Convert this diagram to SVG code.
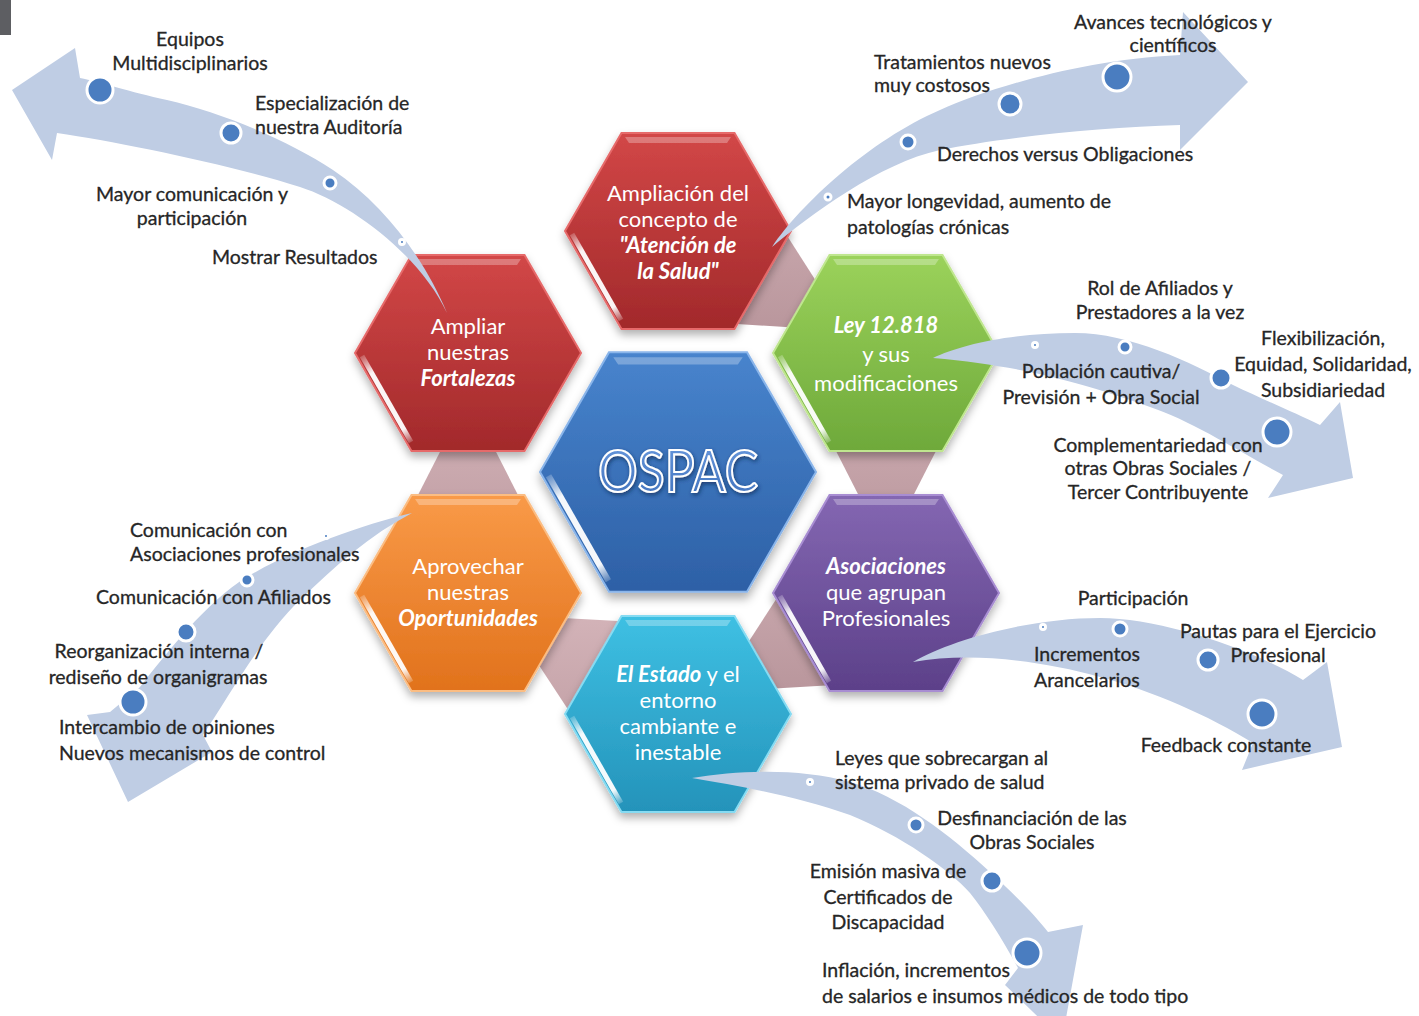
<svg xmlns="http://www.w3.org/2000/svg" xmlns:xlink="http://www.w3.org/1999/xlink" width="1419" height="1016" viewBox="0 0 1419 1016">
<style>
.ht{font-family:Lato,"Liberation Sans",sans-serif;font-size:22px;fill:#ffffff;text-anchor:middle}
.bi{font-weight:bold;font-style:italic}
.lb{font-family:Lato,"Liberation Sans",sans-serif;font-size:19.5px;fill:#262626;stroke:#262626;stroke-width:0.3}
.m{text-anchor:middle}
.arr{fill:#bfcde4}
.dot{fill:#4a7dc0;stroke:#ffffff;stroke-width:3}
.cn{fill:url(#gC)}
</style>
<defs>
<filter id="sh" x="-20%" y="-20%" width="140%" height="150%"><feDropShadow dx="0" dy="5" stdDeviation="4" flood-color="#000" flood-opacity="0.3"/></filter>
<filter id="ts" x="-10%" y="-30%" width="120%" height="160%"><feDropShadow dx="1" dy="2" stdDeviation="2" flood-color="#0a2a55" flood-opacity="0.7"/></filter>
<linearGradient id="gR" x1="0" y1="0" x2="0" y2="1"><stop offset="0" stop-color="#d24747"/><stop offset="1" stop-color="#a2292b"/></linearGradient>
<linearGradient id="gB" x1="0" y1="0" x2="0" y2="1"><stop offset="0" stop-color="#4884cd"/><stop offset="1" stop-color="#2d60a6"/></linearGradient>
<linearGradient id="gG" x1="0" y1="0" x2="0" y2="1"><stop offset="0" stop-color="#9bd25b"/><stop offset="1" stop-color="#6ea93a"/></linearGradient>
<linearGradient id="gO" x1="0" y1="0" x2="0" y2="1"><stop offset="0" stop-color="#f99a48"/><stop offset="1" stop-color="#e1721c"/></linearGradient>
<linearGradient id="gP" x1="0" y1="0" x2="0" y2="1"><stop offset="0" stop-color="#8467b2"/><stop offset="1" stop-color="#5c4089"/></linearGradient>
<linearGradient id="gY" x1="0" y1="0" x2="0" y2="1"><stop offset="0" stop-color="#3ec0e3"/><stop offset="1" stop-color="#2493ba"/></linearGradient>
<linearGradient id="gT" x1="0" y1="0" x2="0" y2="1"><stop offset="0" stop-color="#6b9be0"/><stop offset="1" stop-color="#3e70bb"/></linearGradient>
<linearGradient id="gC" x1="0" y1="0" x2="0" y2="1"><stop offset="0" stop-color="#d3b3b8"/><stop offset="1" stop-color="#b9969c"/></linearGradient>
<linearGradient id="gw" gradientUnits="userSpaceOnUse" x1="-106" y1="3" x2="-57" y2="89"><stop offset="0" stop-color="#fff" stop-opacity="0.2"/><stop offset="0.2" stop-color="#fff" stop-opacity="0.95"/><stop offset="0.85" stop-color="#fff" stop-opacity="0.95"/><stop offset="1" stop-color="#fff" stop-opacity="0.2"/></linearGradient>
<path id="hx" d="M-113,0 L-56.5,-98 L56.5,-98 L113,0 L56.5,98 L-56.5,98 Z"/>
<g id="bv">
<path d="M-53,-94 L53,-94 L49,-88 L-49,-88 Z" fill="#ffffff" opacity="0.28"/>
<path d="M-106,3 L-57,89" stroke="url(#gw)" stroke-width="5" fill="none"/>
</g>
</defs>
<rect x="0" y="0" width="11" height="35" fill="#5d5e62"/>
<g id="connectors">
<polygon class="cn" points="468,397 568,593 368,593"/>
<polygon class="cn" points="506,615 728,627 628,801"/>
<polygon class="cn" points="716,692 936,679 836,507"/>
<polygon class="cn" points="886,549 986,353 786,353"/>
<polygon class="cn" points="848,331 729,145 627,317"/>
</g>
<g id="node-fortalezas" transform="translate(468,353)">
<use xlink:href="#hx" fill="url(#gR)" stroke="#e66a6a" stroke-width="2" filter="url(#sh)"/>
<use xlink:href="#bv"/>
<text class="ht" x="0" y="-19">Ampliar</text>
<text class="ht" x="0" y="7">nuestras</text>
<text class="ht bi" x="0" y="33">Fortalezas</text>
</g>
<g id="node-atencion" transform="translate(678,231)">
<use xlink:href="#hx" fill="url(#gR)" stroke="#e66a6a" stroke-width="2" filter="url(#sh)"/>
<use xlink:href="#bv"/>
<text class="ht" x="0" y="-30">Ampliación del</text>
<text class="ht" x="0" y="-4">concepto de</text>
<text class="ht bi" x="0" y="22">"Atención de</text>
<text class="ht bi" x="0" y="48">la Salud"</text>
</g>
<g id="node-ley" transform="translate(886,353)">
<use xlink:href="#hx" fill="url(#gG)" stroke="#bfe68f" stroke-width="2" filter="url(#sh)"/>
<use xlink:href="#bv"/>
<text class="ht bi" x="0" y="-20">Ley 12.818</text>
<text class="ht" x="0" y="9">y sus</text>
<text class="ht" x="0" y="38">modificaciones</text>
</g>
<g id="node-oportunidades" transform="translate(468,593)">
<use xlink:href="#hx" fill="url(#gO)" stroke="#fbbd83" stroke-width="2" filter="url(#sh)"/>
<use xlink:href="#bv"/>
<text class="ht" x="0" y="-19">Aprovechar</text>
<text class="ht" x="0" y="7">nuestras</text>
<text class="ht bi" x="0" y="33">Oportunidades</text>
</g>
<g id="node-asociaciones" transform="translate(886,593)">
<use xlink:href="#hx" fill="url(#gP)" stroke="#a88dd2" stroke-width="2" filter="url(#sh)"/>
<use xlink:href="#bv"/>
<text class="ht bi" x="0" y="-19">Asociaciones</text>
<text class="ht" x="0" y="7">que agrupan</text>
<text class="ht" x="0" y="33">Profesionales</text>
</g>
<g id="node-estado" transform="translate(678,714)">
<use xlink:href="#hx" fill="url(#gY)" stroke="#86dbf2" stroke-width="2" filter="url(#sh)"/>
<use xlink:href="#bv"/>
<text class="ht" x="0" y="-32"><tspan class="bi">El Estado</tspan> y el</text>
<text class="ht" x="0" y="-6">entorno</text>
<text class="ht" x="0" y="20">cambiante e</text>
<text class="ht" x="0" y="46">inestable</text>
</g>
<g id="node-ospac">
<g transform="translate(678,472) scale(1.2212)">
<use xlink:href="#hx" fill="url(#gB)" stroke="#8ab5ea" stroke-width="1.7" filter="url(#sh)"/>
<use xlink:href="#bv"/>
</g>
<text x="678" y="492" text-anchor="middle" font-family="Lato,'Liberation Sans',sans-serif" font-size="58" fill="url(#gT)" stroke="#ffffff" stroke-width="2.2" textLength="160" lengthAdjust="spacingAndGlyphs" filter="url(#ts)">OSPAC</text>
</g>
<g id="arrows">
<path class="arr" d="M447,313 C425,260 385,205 333,170 C288,140 220,112 167,100 C130,92 100,82 80,78 L75,48 L12,90 L52,160 L57,133 C120,142 230,165 300,187 C350,203 420,255 447,313 Z"/>
<path class="arr" d="M772,247 C800,205 870,140 940,110 C990,88 1080,60 1180,55 L1183,12 L1248,82 L1180,150 L1180,125 C1100,127 1000,138 940,150 C880,163 810,215 772,247 Z"/>
<path class="arr" d="M933,358 C960,345 1010,333 1075,333 C1130,333 1190,362 1233,385 C1260,398 1295,413 1320,425 L1340,402 L1353,478 L1268,498 L1283,475 C1240,452 1190,420 1150,407 C1110,393 1040,367 933,358 Z"/>
<path class="arr" d="M913,662 C950,640 1030,618 1100,618 C1160,618 1250,648 1303,680 L1327,662 L1342,747 L1242,770 L1253,743 C1210,716 1150,690 1100,677 C1040,660 970,652 913,662 Z"/>
<path class="arr" d="M692,778 C740,770 800,768 850,782 C900,796 950,835 990,872 C1015,895 1035,915 1048,932 L1083,925 L1062,1040 L1005,985 L1018,968 C1000,935 985,912 970,893 C950,870 900,835 850,815 C800,797 740,786 692,778 Z"/>
<path class="arr" d="M412,513 C380,520 300,545 247,577 C207,601 165,655 140,687 L110,712 L87,715 L128,802 L212,752 L203,735 C230,695 262,636 300,600 C335,566 370,535 412,513 Z"/>
</g>
<g id="dots">
<circle class="dot" cx="100" cy="90" r="13"/><circle class="dot" cx="231" cy="133" r="10"/><circle class="dot" cx="330" cy="183" r="6"/><circle class="dot" cx="402" cy="242" r="2.5"/>
<circle class="dot" cx="828" cy="197" r="3"/><circle class="dot" cx="908" cy="142" r="7"/><circle class="dot" cx="1010" cy="104" r="11"/><circle class="dot" cx="1117" cy="77" r="14"/>
<circle class="dot" cx="1035" cy="345" r="2.5"/><circle class="dot" cx="1125" cy="347" r="6"/><circle class="dot" cx="1221" cy="378" r="10"/><circle class="dot" cx="1277" cy="432" r="14"/>
<circle class="dot" cx="1043" cy="627" r="2.5"/><circle class="dot" cx="1120" cy="629" r="7"/><circle class="dot" cx="1208" cy="660" r="10"/><circle class="dot" cx="1262" cy="714" r="14"/>
<circle class="dot" cx="810" cy="782" r="2.5"/><circle class="dot" cx="916" cy="825" r="7"/><circle class="dot" cx="992" cy="881" r="10"/><circle class="dot" cx="1027" cy="953" r="14"/>
<circle class="dot" cx="326" cy="536" r="2.5"/><circle class="dot" cx="247" cy="580" r="6"/><circle class="dot" cx="186" cy="632" r="9"/><circle class="dot" cx="133" cy="702" r="13"/>
</g>
<g id="labels-fortalezas">
<text class="lb m" x="190" y="46">Equipos</text>
<text class="lb m" x="190" y="70">Multidisciplinarios</text>
<text class="lb" x="255" y="110">Especialización de</text>
<text class="lb" x="255" y="134">nuestra Auditoría</text>
<text class="lb m" x="192" y="201">Mayor comunicación y</text>
<text class="lb m" x="192" y="225">participación</text>
<text class="lb" x="212" y="264">Mostrar Resultados</text>
</g>
<g id="labels-atencion">
<text class="lb m" x="1173" y="29">Avances tecnológicos y</text>
<text class="lb m" x="1173" y="52">científicos</text>
<text class="lb" x="874" y="69">Tratamientos nuevos</text>
<text class="lb" x="874" y="92">muy costosos</text>
<text class="lb" x="937" y="161">Derechos versus Obligaciones</text>
<text class="lb" x="847" y="208">Mayor longevidad, aumento de</text>
<text class="lb" x="847" y="234">patologías crónicas</text>
</g>
<g id="labels-ley">
<text class="lb m" x="1160" y="295">Rol de Afiliados y</text>
<text class="lb m" x="1160" y="319">Prestadores a la vez</text>
<text class="lb m" x="1323" y="345">Flexibilización,</text>
<text class="lb m" x="1323" y="371">Equidad, Solidaridad,</text>
<text class="lb m" x="1323" y="397">Subsidiariedad</text>
<text class="lb m" x="1101" y="378">Población cautiva/</text>
<text class="lb m" x="1101" y="404">Previsión + Obra Social</text>
<text class="lb m" x="1158" y="452">Complementariedad con</text>
<text class="lb m" x="1158" y="475">otras Obras Sociales /</text>
<text class="lb m" x="1158" y="499">Tercer Contribuyente</text>
</g>
<g id="labels-asociaciones">
<text class="lb m" x="1133" y="605">Participación</text>
<text class="lb" x="1034" y="661">Incrementos</text>
<text class="lb" x="1034" y="687">Arancelarios</text>
<text class="lb m" x="1278" y="638">Pautas para el Ejercicio</text>
<text class="lb m" x="1278" y="662">Profesional</text>
<text class="lb m" x="1226" y="752">Feedback constante</text>
</g>
<g id="labels-estado">
<text class="lb" x="835" y="765">Leyes que sobrecargan al</text>
<text class="lb" x="835" y="789">sistema privado de salud</text>
<text class="lb m" x="1032" y="825">Desfinanciación de las</text>
<text class="lb m" x="1032" y="849">Obras Sociales</text>
<text class="lb m" x="888" y="878">Emisión masiva de</text>
<text class="lb m" x="888" y="904">Certificados de</text>
<text class="lb m" x="888" y="929">Discapacidad</text>
<text class="lb" x="822" y="977">Inflación, incrementos</text>
<text class="lb" x="822" y="1003">de salarios e insumos médicos de todo tipo</text>
</g>
<g id="labels-oportunidades">
<text class="lb" x="130" y="537">Comunicación con</text>
<text class="lb" x="130" y="561">Asociaciones profesionales</text>
<text class="lb" x="96" y="604">Comunicación con Afiliados</text>
<text class="lb m" x="159" y="658">Reorganización interna /</text>
<text class="lb m" x="158" y="684">rediseño de organigramas</text>
<text class="lb" x="59" y="734">Intercambio de opiniones</text>
<text class="lb" x="59" y="760">Nuevos mecanismos de control</text>
</g>
</svg>
